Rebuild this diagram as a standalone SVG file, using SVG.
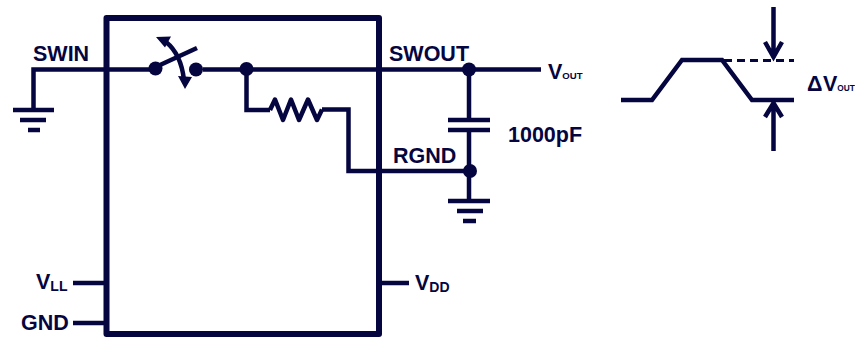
<svg xmlns="http://www.w3.org/2000/svg" width="855" height="338" viewBox="0 0 855 338">
<style>
.w{fill:none;stroke:#05053f;stroke-width:4.500;stroke-linejoin:miter}
.b{fill:none;stroke:#05053f;stroke-width:6;stroke-linejoin:round}
.d{fill:#05053f}
text{font-family:"Liberation Sans",Arial,sans-serif;font-weight:700;fill:#05053f;font-size:21.500px}
.s{font-size:14px}
.xs{font-size:9.600px}
</style>
<rect width="855" height="338" fill="#fff"/>
<g id="connectors">
<path class="w" d="M33.500 110V69.500H150M203 69.500H541M246.500 69.500V110H270"/>
<path class="w" d="M322 109.500H348.500V171H470"/>
<path class="w" stroke-width="5" d="M160 65L197 48"/>
<path class="w" d="M166 42Q181 54 184 80"/>
<path class="d" d="M156 37L171 36.500L165 47.500ZM178 76L192 77L185 89Z"/>
<path class="w" d="M469 70V120M469 130V201"/>
<path class="w" d="M73 283H106M73 323H106M379 283H409"/>
</g>
<g id="resistor"><path class="w" style="stroke-linejoin:round" d="M270 110L275 99.500L283 120L291 99.500L299 120L308 99.500L317 120L322 109.500"/></g>
<g id="chip"><rect class="b" x="106.500" y="18" width="272.500" height="316"/></g>
<g id="ground-left"><path class="w" d="M13 110H54M20 120H46M28 130H40"/></g>
<g id="switch">
<circle class="d" cx="155.500" cy="68.500" r="7"/>
<circle class="d" cx="196" cy="69.500" r="7"/>
</g>
<g id="junction-a"><circle class="d" cx="246.500" cy="69" r="7"/></g>
<g id="junction-b"><circle class="d" cx="469" cy="69.500" r="7"/></g>
<g id="junction-c"><circle class="d" cx="470" cy="171" r="7"/></g>
<g id="capacitor"><path class="w" d="M448 120H490M448 130H490"/></g>
<g id="ground-right"><path class="w" d="M448 201H490M457 211H483M463 221H476"/></g>
<g id="waveform">
<path class="w" d="M621 100H652L682 60H722L752 100H794"/>
<path fill="none" stroke="#05053f" stroke-width="3" stroke-dasharray="8 5" d="M724 60.500H794"/>
<path class="w" d="M773.500 7V58M765 42L773.500 57L782 42"/>
<path class="w" d="M773.500 151V102M765 117L773.500 103L782 117"/>
</g>
<g id="labels">
<text x="33" y="61">SWIN</text>
<text x="389" y="61">SWOUT</text>
<text x="393" y="162.500">RGND</text>
<text x="508" y="141.500">1000pF</text>
<text x="548" y="79" font-size="21">V<tspan class="xs">OUT</tspan></text>
<text x="807" y="91" font-size="19">Δ</text>
<text x="823" y="91" font-size="21">V<tspan font-size="8.300">OUT</tspan></text>
<text x="36" y="289" font-size="21">V<tspan class="s" dy="2">LL</tspan></text>
<text x="415" y="290" font-size="21">V<tspan class="s" dy="2">DD</tspan></text>
<text x="21" y="330">GND</text>
</g>
</svg>
